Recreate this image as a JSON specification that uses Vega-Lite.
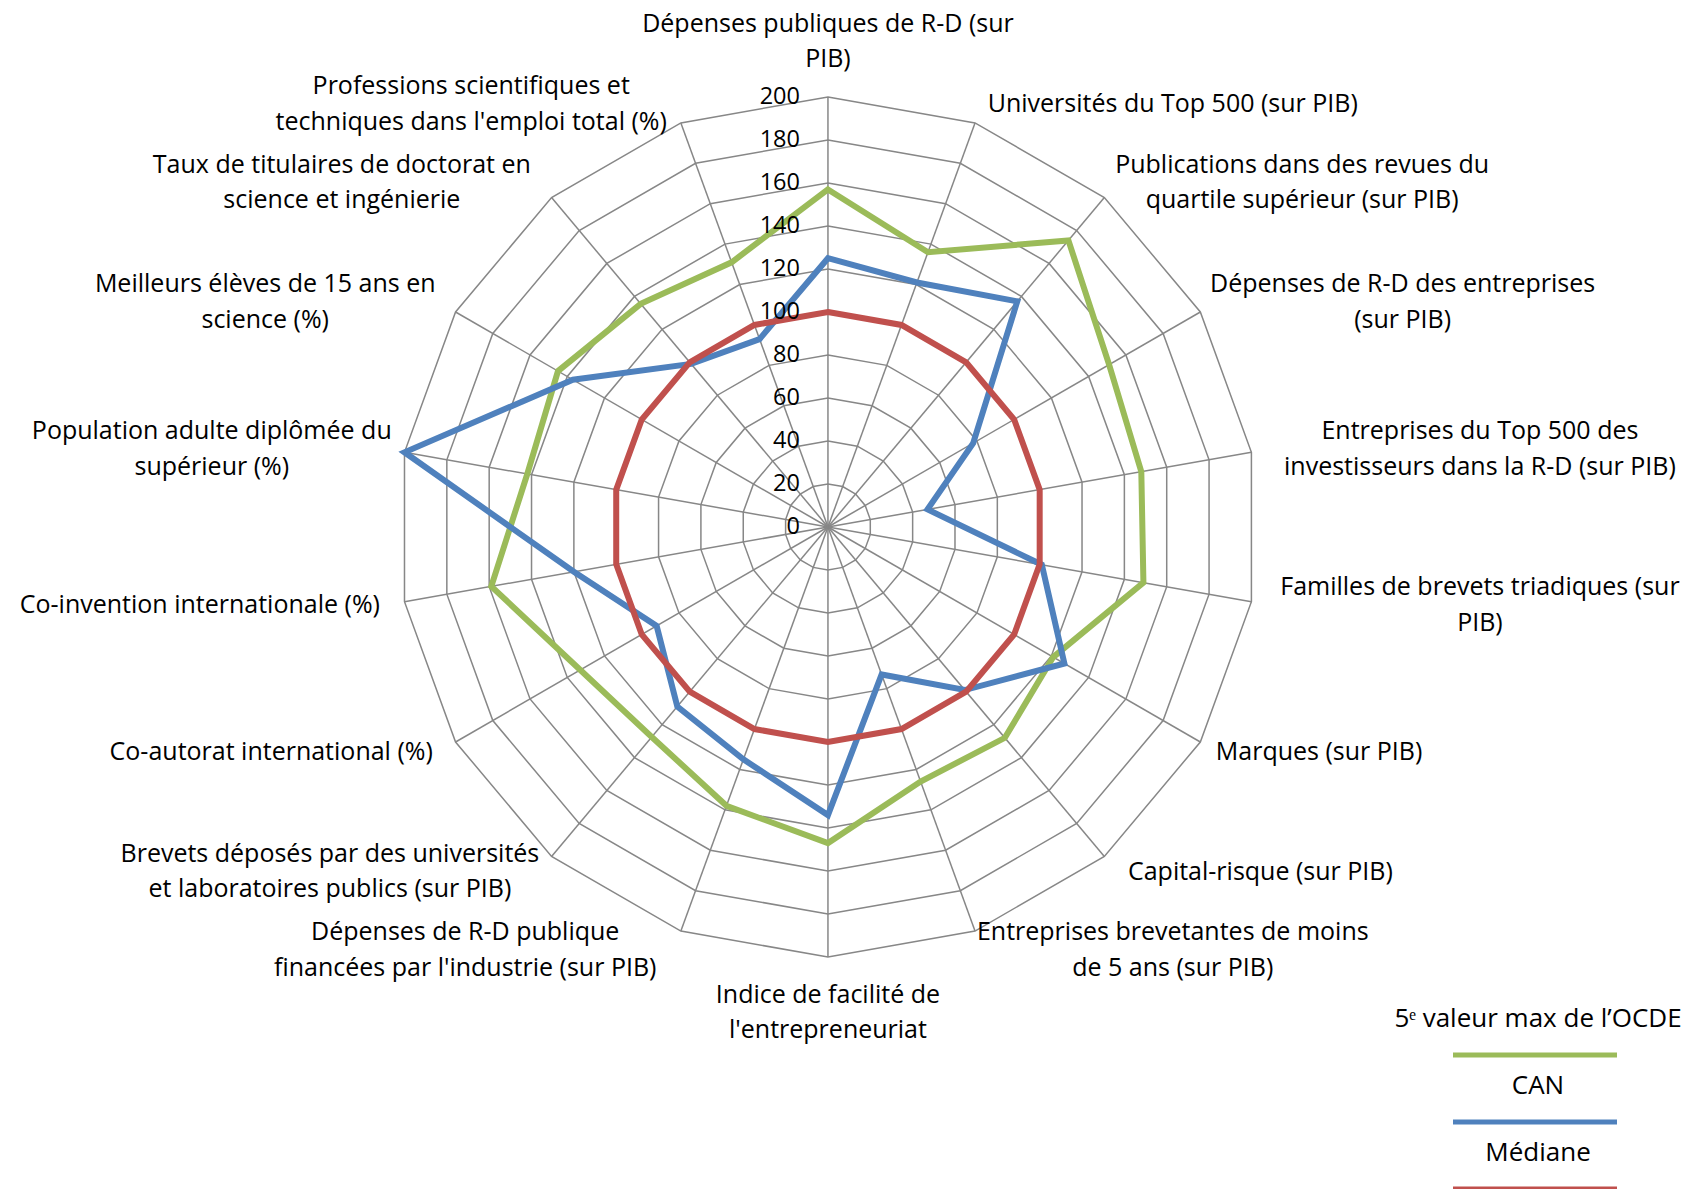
{
  "$schema": "https://vega.github.io/schema/vega-lite/v6.json",
  "width": 1686,
  "height": 1189,
  "autosize": "none",
  "padding": 0,
  "background": "white",
  "config": {"view": {"stroke": null}, "font": "Open Sans", "text": {"font": "Open Sans"}},
  "datasets": {
    "axes": [
      {"ordre": 0, "lignes": ["Dépenses publiques de R-D (sur", "PIB)"], "5ᵉ valeur max de l’OCDE": 157, "CAN": 125, "Médiane": 100},
      {"ordre": 1, "lignes": ["Universités du Top 500 (sur PIB)"], "5ᵉ valeur max de l’OCDE": 136, "CAN": 121, "Médiane": 100},
      {"ordre": 2, "lignes": ["Publications dans des revues du", "quartile supérieur (sur PIB)"], "5ᵉ valeur max de l’OCDE": 174, "CAN": 137, "Médiane": 100},
      {"ordre": 3, "lignes": ["Dépenses de R-D des entreprises", "(sur PIB)"], "5ᵉ valeur max de l’OCDE": 151, "CAN": 78, "Médiane": 100},
      {"ordre": 4, "lignes": ["Entreprises du Top 500 des", "investisseurs dans la R-D (sur PIB)"], "5ᵉ valeur max de l’OCDE": 148, "CAN": 47, "Médiane": 100},
      {"ordre": 5, "lignes": ["Familles de brevets triadiques (sur", "PIB)"], "5ᵉ valeur max de l’OCDE": 149, "CAN": 101, "Médiane": 100},
      {"ordre": 6, "lignes": ["Marques (sur PIB)"], "5ᵉ valeur max de l’OCDE": 121, "CAN": 127, "Médiane": 100},
      {"ordre": 7, "lignes": ["Capital-risque (sur PIB)"], "5ᵉ valeur max de l’OCDE": 128, "CAN": 99, "Médiane": 100},
      {"ordre": 8, "lignes": ["Entreprises brevetantes de moins", "de 5 ans (sur PIB)"], "5ᵉ valeur max de l’OCDE": 126, "CAN": 73, "Médiane": 100},
      {"ordre": 9, "lignes": ["Indice de facilité de", "l'entrepreneuriat"], "5ᵉ valeur max de l’OCDE": 147, "CAN": 134, "Médiane": 100},
      {"ordre": 10, "lignes": ["Dépenses de R-D publique", "financées par l'industrie (sur PIB)"], "5ᵉ valeur max de l’OCDE": 138, "CAN": 115, "Médiane": 100},
      {"ordre": 11, "lignes": ["Brevets déposés par des universités", "et laboratoires publics (sur PIB)"], "5ᵉ valeur max de l’OCDE": 127.5, "CAN": 109, "Médiane": 100},
      {"ordre": 12, "lignes": ["Co-autorat international (%)"], "5ᵉ valeur max de l’OCDE": 133, "CAN": 92, "Médiane": 100},
      {"ordre": 13, "lignes": ["Co-invention internationale (%)"], "5ᵉ valeur max de l’OCDE": 159, "CAN": 120, "Médiane": 100},
      {"ordre": 14, "lignes": ["Population adulte diplômée du", "supérieur (%)"], "5ᵉ valeur max de l’OCDE": 142, "CAN": 200, "Médiane": 100},
      {"ordre": 15, "lignes": ["Meilleurs élèves de 15 ans en", "science (%)"], "5ᵉ valeur max de l’OCDE": 145, "CAN": 137, "Médiane": 100},
      {"ordre": 16, "lignes": ["Taux de titulaires de doctorat en", "science et ingénierie"], "5ᵉ valeur max de l’OCDE": 135.5, "CAN": 99, "Médiane": 100},
      {"ordre": 17, "lignes": ["Professions scientifiques et", "techniques dans l'emploi total (%)"], "5ᵉ valeur max de l’OCDE": 131, "CAN": 93, "Médiane": 100}
    ],
    "grille": [
      {"niveau": 20, "ordre": [0,1,2,3,4,5,6,7,8,9,10,11,12,13,14,15,16,17]},
      {"niveau": 40, "ordre": [0,1,2,3,4,5,6,7,8,9,10,11,12,13,14,15,16,17]},
      {"niveau": 60, "ordre": [0,1,2,3,4,5,6,7,8,9,10,11,12,13,14,15,16,17]},
      {"niveau": 80, "ordre": [0,1,2,3,4,5,6,7,8,9,10,11,12,13,14,15,16,17]},
      {"niveau": 100, "ordre": [0,1,2,3,4,5,6,7,8,9,10,11,12,13,14,15,16,17]},
      {"niveau": 120, "ordre": [0,1,2,3,4,5,6,7,8,9,10,11,12,13,14,15,16,17]},
      {"niveau": 140, "ordre": [0,1,2,3,4,5,6,7,8,9,10,11,12,13,14,15,16,17]},
      {"niveau": 160, "ordre": [0,1,2,3,4,5,6,7,8,9,10,11,12,13,14,15,16,17]},
      {"niveau": 180, "ordre": [0,1,2,3,4,5,6,7,8,9,10,11,12,13,14,15,16,17]},
      {"niveau": 200, "ordre": [0,1,2,3,4,5,6,7,8,9,10,11,12,13,14,15,16,17]}
    ],
    "graduations": [
      {"niveau": 0}, {"niveau": 20}, {"niveau": 40}, {"niveau": 60}, {"niveau": 80}, {"niveau": 100},
      {"niveau": 120}, {"niveau": 140}, {"niveau": 160}, {"niveau": 180}, {"niveau": 200}
    ]
  },
  "layer": [
    {
      "data": {"name": "grille"},
      "transform": [
        {"flatten": ["ordre"]},
        {"calculate": "datum.ordre * PI / 9", "as": "a"},
        {"calculate": "datum.niveau * sin(datum.a)", "as": "px"},
        {"calculate": "datum.niveau * cos(datum.a)", "as": "py"}
      ],
      "mark": {"type": "line", "interpolate": "linear-closed", "stroke": "#878787", "strokeWidth": 1.5},
      "encoding": {
        "x": {"field": "px", "type": "quantitative", "scale": {"domain": [-385.1, 399.1], "nice": false, "zero": false}, "axis": null},
        "y": {"field": "py", "type": "quantitative", "scale": {"domain": [-307.9, 245.1], "nice": false, "zero": false}, "axis": null},
        "detail": {"field": "niveau", "type": "nominal"},
        "order": {"field": "ordre", "type": "quantitative"}
      }
    },
    {
      "data": {"name": "axes"},
      "transform": [
        {"calculate": "datum.ordre * PI / 9", "as": "a"},
        {"calculate": "200 * sin(datum.a)", "as": "px"},
        {"calculate": "200 * cos(datum.a)", "as": "py"}
      ],
      "mark": {"type": "rule", "stroke": "#878787", "strokeWidth": 1.5},
      "encoding": {
        "x": {"field": "px", "type": "quantitative", "scale": {"domain": [-385.1, 399.1], "nice": false, "zero": false}, "axis": null},
        "y": {"field": "py", "type": "quantitative", "scale": {"domain": [-307.9, 245.1], "nice": false, "zero": false}, "axis": null},
        "x2": {"datum": 0},
        "y2": {"datum": 0}
      }
    },
    {
      "data": {"name": "axes"},
      "transform": [
        {"fold": ["5ᵉ valeur max de l’OCDE", "CAN", "Médiane"], "as": ["serie", "valeur"]},
        {"calculate": "datum.ordre * PI / 9", "as": "a"},
        {"calculate": "datum.valeur * sin(datum.a)", "as": "px"},
        {"calculate": "datum.valeur * cos(datum.a)", "as": "py"}
      ],
      "mark": {"type": "line", "interpolate": "linear-closed", "strokeWidth": 6},
      "encoding": {
        "x": {"field": "px", "type": "quantitative", "scale": {"domain": [-385.1, 399.1], "nice": false, "zero": false}, "axis": null},
        "y": {"field": "py", "type": "quantitative", "scale": {"domain": [-307.9, 245.1], "nice": false, "zero": false}, "axis": null},
        "color": {
          "field": "serie", "type": "nominal",
          "scale": {"domain": ["5ᵉ valeur max de l’OCDE", "CAN", "Médiane"], "range": ["#9BBB59", "#4F81BD", "#C0504D"]},
          "legend": {
            "title": null, "orient": "none", "legendX": 1522, "legendY": 1006, "padding": 0,
            "symbolType": "M-8.2,3.6H8.2", "symbolSize": 400, "symbolStrokeWidth": 5,
            "labelAlign": "center", "labelBaseline": "middle", "labelOffset": -10,
            "labelFontSize": 26, "labelFont": "Open Sans", "labelColor": "black", "rowPadding": 8, "labelLimit": 400
          }
        },
        "order": {"field": "ordre", "type": "quantitative"}
      }
    },
    {
      "data": {"name": "axes"},
      "transform": [
        {"calculate": "datum.ordre * PI / 9", "as": "a"},
        {"calculate": "sin(datum.a)", "as": "s"},
        {"calculate": "cos(datum.a)", "as": "c"},
        {"calculate": "length(datum.lignes)", "as": "n"},
        {"calculate": "max(length(datum.lignes[0]), datum.n > 1 ? length(datum.lignes[1]) : 0) * 5.55", "as": "w"},
        {"calculate": "209.3 * datum.s + (datum.s > 0.01 ? datum.w / 2 : (datum.s < -0.01 ? -datum.w / 2 : 0))", "as": "lx"},
        {"calculate": "datum.c > 0.99 ? 209.3 + (datum.n - 0.5) * 16.5 : (datum.c < -0.99 ? -209.3 - 8.25 : 209.3 * datum.c + (datum.n - 1) * 8.25)", "as": "ly"}
      ],
      "mark": {"type": "text", "align": "center", "baseline": "middle", "fontSize": 25, "lineHeight": 35.5, "font": "Open Sans", "color": "black"},
      "encoding": {
        "x": {"field": "lx", "type": "quantitative", "scale": {"domain": [-385.1, 399.1], "nice": false, "zero": false}, "axis": null},
        "y": {"field": "ly", "type": "quantitative", "scale": {"domain": [-307.9, 245.1], "nice": false, "zero": false}, "axis": null},
        "text": {"field": "lignes", "type": "nominal"}
      }
    },
    {
      "data": {"name": "graduations"},
      "mark": {"type": "text", "align": "right", "baseline": "middle", "dx": -28, "fontSize": 23.5, "font": "Open Sans", "color": "black"},
      "encoding": {
        "x": {"datum": 0, "type": "quantitative", "scale": {"domain": [-385.1, 399.1], "nice": false, "zero": false}, "axis": null},
        "y": {"field": "niveau", "type": "quantitative", "scale": {"domain": [-307.9, 245.1], "nice": false, "zero": false}, "axis": null},
        "text": {"field": "niveau", "type": "quantitative"}
      }
    }
  ]
}
